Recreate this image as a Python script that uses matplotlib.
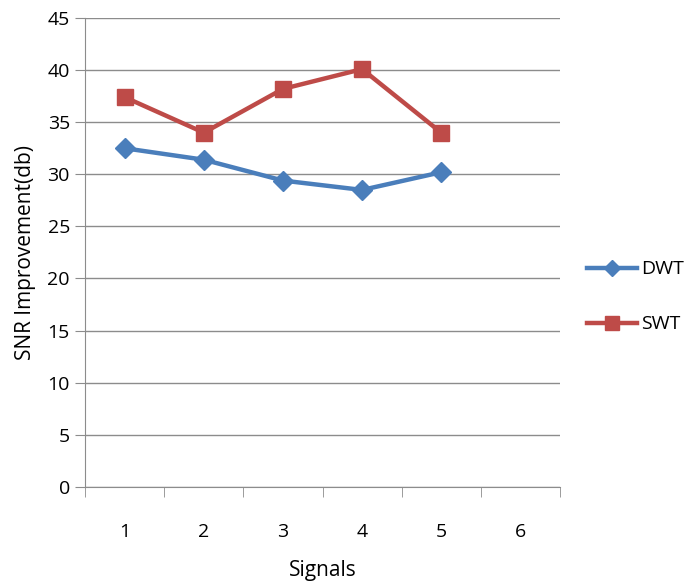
import matplotlib.pyplot as plt
import numpy as np

plt.rcParams['font.family'] = ['Open Sans', 'DejaVu Sans']

# data
signals = [1, 2, 3, 4, 5]
categories = ['1', '2', '3', '4', '5', '6']
dwt = [32.5, 31.4, 29.4, 28.5, 30.2]
swt = [37.4, 34.0, 38.2, 40.1, 34.0]

fig = plt.figure(figsize=(6.87, 5.83), dpi=100)
ax = fig.add_axes([0.124, 0.165, 0.691, 0.804])

grid_col = '#8c8c8c'
ax.plot(signals, dwt, color='#4a7ebb', lw=3.2, marker='D', ms=10,
        mec='#4a7ebb', label='DWT', zorder=3)
ax.plot(signals, swt, color='#be4b48', lw=3.2, marker='s', ms=12,
        mec='#be4b48', label='SWT', zorder=3)

ax.set_xlim(0.5, 6.5)
ax.set_ylim(0, 45)
ax.set_yticks(np.arange(0, 46, 5))
ax.yaxis.grid(True, color=grid_col, lw=1)
ax.set_axisbelow(True)

# category labels centered, tick marks at boundaries
ax.set_xticks(range(1, 7))
ax.set_xticklabels(categories)
ax.set_xticks(np.arange(0.5, 6.6, 1), minor=True)
ax.tick_params(axis='x', which='major', length=0, pad=26, labelsize=14)
ax.tick_params(axis='x', which='minor', length=7, color=grid_col, direction='out')
ax.tick_params(axis='y', length=7, color=grid_col, labelsize=14, pad=4)

for s in ['top', 'right']:
    ax.spines[s].set_visible(False)
for s in ['left', 'bottom']:
    ax.spines[s].set_color(grid_col)

ax.set_xlabel('Signals', fontsize=15, labelpad=14)
ax.set_ylabel('SNR Improvement(db)', fontsize=15, labelpad=8)

leg = ax.legend(loc='center left', bbox_to_anchor=(1.02, 0.405), frameon=False,
                fontsize=14, handlelength=2.6, labelspacing=1.9,
                handletextpad=0.2, markerscale=0.8)

fig.savefig('out.png', dpi=100)
